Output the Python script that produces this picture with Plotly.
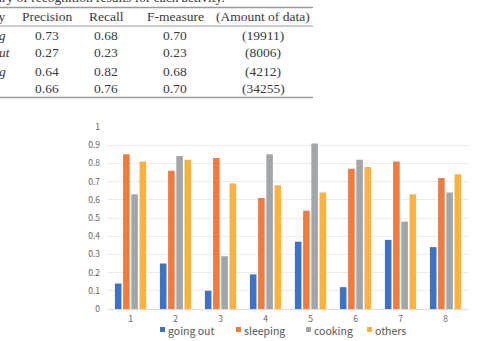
import plotly.graph_objects as go

# ---- data ----
categories = ["1", "2", "3", "4", "5", "6", "7", "8"]
going_out = [0.14, 0.25, 0.10, 0.19, 0.37, 0.12, 0.38, 0.34]
sleeping = [0.85, 0.76, 0.83, 0.61, 0.54, 0.77, 0.81, 0.72]
cooking = [0.63, 0.84, 0.29, 0.85, 0.91, 0.82, 0.48, 0.64]
others = [0.81, 0.82, 0.69, 0.68, 0.64, 0.78, 0.63, 0.74]
series_names = ["going out", "sleeping", "cooking", "others"]
series_colors = ["#3f72c4", "#ef7b3e", "#a2a6a8", "#fdb13f"]
y_ticks = [0, 0.1, 0.2, 0.3, 0.4, 0.5, 0.6, 0.7, 0.8, 0.9, 1]
y_tick_labels = ["0", "0.1", "0.2", "0.3", "0.4", "0.5", "0.6", "0.7", "0.8", "0.9", "1"]

# table (partial, cropped at left)
table_caption = "Table 3. Summary of recognition results for each activity."
table_header = ["Activity", "Precision", "Recall", "F-measure", "(Amount of data)"]
table_row_labels = ["Sleeping", "Going out", "Cooking", ""]
precision = ["0.73", "0.27", "0.64", "0.66"]
recall = ["0.68", "0.23", "0.82", "0.76"]
f_measure = ["0.70", "0.23", "0.68", "0.70"]
amount = ["(19911)", "(8006)", "(4212)", "(34255)"]

W, H = 477, 341
L, R, T, B = 108, 9, 127, 32
PW, PH = W - L - R, H - T - B


def px(x):
    return (x - L) / PW


def py(y):
    return (H - B - y) / PH


fig = go.Figure()
for name, vals, col in zip(series_names, [going_out, sleeping, cooking, others], series_colors):
    fig.add_trace(go.Bar(x=categories, y=vals, name=name, marker_color=col,
                         marker_line_width=0, showlegend=False))

ann = []
shapes = []
serif = dict(family="Liberation Serif, Times New Roman, serif", size=13.5, color="#3a3a3a")

# caption (cut at top)
ann.append(dict(x=px(227), y=py(-3), xref="paper", yref="paper", text=table_caption,
                showarrow=False, xanchor="right", yanchor="middle", font=serif))
# rules
for yy, w in [(7.5, 1.6), (26, 1.2), (97.5, 1.6)]:
    shapes.append(dict(type="line", xref="paper", yref="paper", x0=px(-5), x1=px(313),
                       y0=py(yy), y1=py(yy), line=dict(color="#9a9a9a", width=w)))
col_x = [None, 47, 106, 175, 263]
row_y = [35.5, 53, 71, 88.5]
# header
ann.append(dict(x=px(7), y=py(17), xref="paper", yref="paper", text=table_header[0],
                showarrow=False, xanchor="right", yanchor="middle", font=serif))
for cx, t in zip(col_x[1:], table_header[1:]):
    ann.append(dict(x=px(cx), y=py(17), xref="paper", yref="paper", text=t,
                    showarrow=False, xanchor="center", yanchor="middle", font=serif))
label_right = [8, 13, 8, 8]
for i, ry in enumerate(row_y):
    if table_row_labels[i]:
        ann.append(dict(x=px(label_right[i]), y=py(ry), xref="paper", yref="paper",
                        text="<i>" + table_row_labels[i] + "</i>",
                        showarrow=False, xanchor="right", yanchor="middle", font=serif))
    for cx, vals in zip(col_x[1:], [precision, recall, f_measure, amount]):
        ann.append(dict(x=px(cx), y=py(ry), xref="paper", yref="paper", text=vals[i],
                        showarrow=False, xanchor="center", yanchor="middle", font=serif))

# custom legend
sans = "Noto Sans CJK JP, Noto Sans, sans-serif"
leg_x = [160, 236, 306, 367]
for lx, name, col in zip(leg_x, series_names, series_colors):
    shapes.append(dict(type="rect", xref="paper", yref="paper", x0=px(lx), x1=px(lx + 5),
                       y0=py(332), y1=py(327), fillcolor=col, line_width=0))
    ann.append(dict(x=px(lx + 6), y=py(330), xref="paper", yref="paper", text=name,
                    showarrow=False, xanchor="left", yanchor="middle",
                    font=dict(family=sans, size=10.5, color="#555555")))

fig.update_layout(
    width=W, height=H,
    margin=dict(l=L, r=R, t=T, b=B, pad=0),
    paper_bgcolor="white", plot_bgcolor="white",
    barmode="group", bargap=0.27, bargroupgap=0.2,
    annotations=ann, shapes=shapes,
    font=dict(family=sans, size=8.5, color="#666666"),
    xaxis=dict(showgrid=False, showline=True, linecolor="#dcdcdc", linewidth=1,
               ticks="", ticklabelstandoff=2,
               tickfont=dict(size=8.5, color="#666666"), fixedrange=True),
    yaxis=dict(range=[0, 1], tickvals=y_ticks, ticktext=y_tick_labels,
               showgrid=True, gridcolor="#ececec", gridwidth=1, zeroline=False,
               showline=False, ticks="", ticklabelstandoff=7,
               tickfont=dict(size=8.5, color="#666666")),
    showlegend=False,
)

fig.write_html("out.html")
